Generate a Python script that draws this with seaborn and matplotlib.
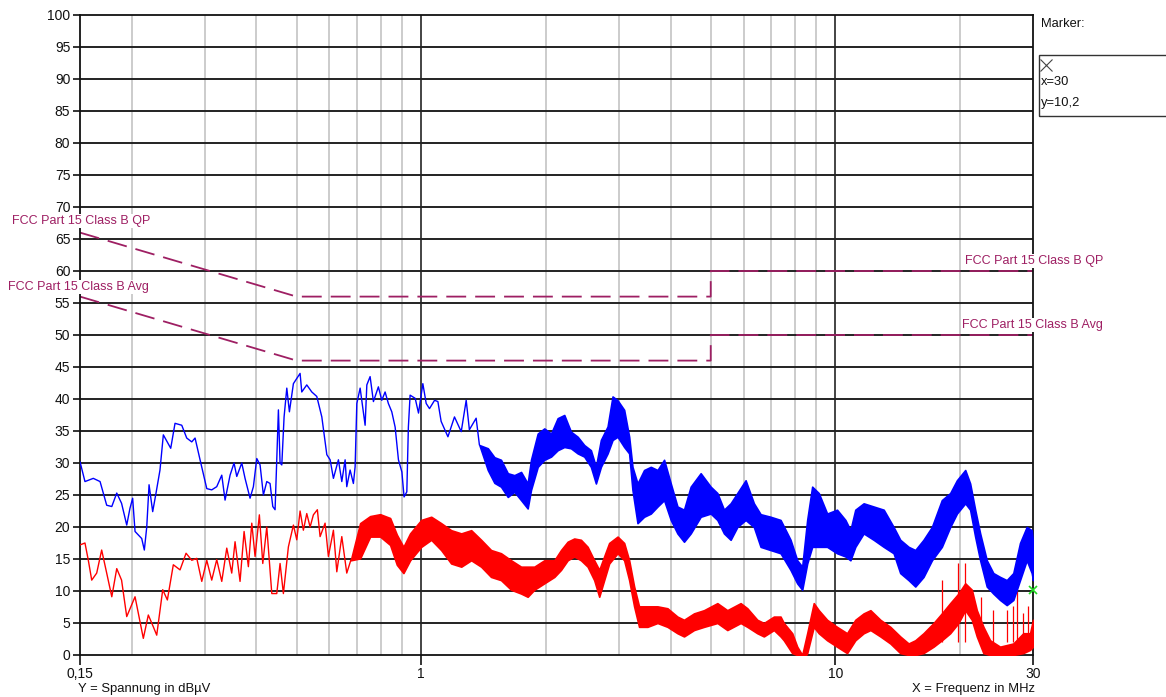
import matplotlib
matplotlib.use("Agg")
import matplotlib.pyplot as plt
import seaborn as sns
import pandas as pd
from matplotlib.lines import Line2D
from matplotlib.patches import Rectangle

# ---------------- data (frequency in MHz, level in dBuV) ----------------
blue_thin_f = [0.150, 0.1542, 0.1615, 0.1677, 0.174, 0.179, 0.184, 0.189, 0.1945, 0.198,
               0.201, 0.2037, 0.2114, 0.2145, 0.2174, 0.2202, 0.2247, 0.2289, 0.234, 0.2384,
               0.2484, 0.2544, 0.2641, 0.2715, 0.2792, 0.2844, 0.2924, 0.3035, 0.312, 0.3208,
               0.3299, 0.336, 0.3455, 0.3532, 0.3586, 0.3687, 0.3755, 0.3861, 0.3933, 0.4008,
               0.4082, 0.4158, 0.4237, 0.4315, 0.4381, 0.4437, 0.4479, 0.452, 0.4562, 0.4606,
               0.4665, 0.4736, 0.4805, 0.4913, 0.5099, 0.5147, 0.5292, 0.5442, 0.5595, 0.5754,
               0.5916, 0.6026, 0.6137, 0.631, 0.643, 0.655, 0.661, 0.6734, 0.6858, 0.6924,
               0.699, 0.712, 0.732, 0.739, 0.7526, 0.7666, 0.788, 0.803, 0.818, 0.833,
               0.849, 0.865, 0.881, 0.898, 0.909, 0.923, 0.931, 0.940, 0.967, 0.985,
               1.009, 1.028, 1.047, 1.077, 1.097, 1.117, 1.160, 1.203, 1.249, 1.284,
               1.307, 1.357, 1.382]
blue_thin_db = [30.2, 27.1, 27.6, 27.1, 23.4, 23.2, 25.3, 23.7, 20.3, 22.9,
                24.5, 19.3, 18.2, 16.4, 20.0, 26.6, 22.4, 25.3, 28.9, 34.4,
                32.3, 36.2, 35.9, 33.9, 33.3, 33.9, 30.5, 26.0, 25.8, 26.3,
                28.1, 24.2, 28.1, 30.0, 27.9, 30.0, 27.6, 24.5, 26.3, 30.7,
                29.7, 25.0, 27.1, 26.8, 23.2, 22.7, 30.5, 38.3, 30.0, 29.7,
                37.2, 41.7, 38.0, 42.4, 44.0, 41.1, 42.2, 41.1, 40.4, 37.2,
                31.3, 30.5, 27.6, 30.5, 27.1, 30.5, 26.3, 28.9, 26.8, 29.4,
                39.3, 41.7, 35.9, 42.2, 43.5, 39.6, 41.9, 39.8, 41.1, 39.3,
                38.0, 35.6, 30.5, 28.6, 24.7, 25.5, 35.6, 40.6, 40.1, 37.8,
                42.4, 39.3, 38.5, 39.8, 39.6, 36.5, 34.1, 37.2, 34.9, 39.8,
                35.2, 37.0, 32.8]

blue_band_f = [1.382, 1.448, 1.502, 1.558, 1.618, 1.678, 1.742, 1.807, 1.841, 1.911,
               1.982, 2.058, 2.135, 2.215, 2.298, 2.386, 2.475, 2.568, 2.641, 2.715,
               2.818, 2.897, 2.979, 3.090, 3.177, 3.236, 3.328, 3.452, 3.583, 3.719,
               3.858, 4.004, 4.155, 4.310, 4.473, 4.728, 4.998, 5.188, 5.382, 5.585,
               5.796, 6.070, 6.356, 6.597, 6.972, 7.371, 7.792, 8.087, 8.315, 8.549,
               8.789, 9.116, 9.550, 10.09, 10.57, 10.87, 11.17, 11.70, 12.37, 13.08,
               13.82, 14.34, 15.02, 15.59, 16.32, 17.10, 18.07, 18.93, 19.65, 20.58,
               21.15, 21.75, 22.36, 23.20, 24.06, 24.98, 25.92, 26.89, 27.91, 28.97,
               29.79, 30.0]
blue_band_hi = [32.8, 32.3, 30.9, 30.5, 28.4, 28.1, 28.6, 26.8, 30.5, 34.6,
                35.4, 34.6, 37.0, 37.5, 34.9, 34.1, 32.8, 32.0, 29.4, 33.6,
                35.7, 40.4, 39.8, 38.3, 34.1, 29.4, 26.8, 28.9, 29.4, 28.9,
                30.5, 26.8, 23.2, 22.7, 26.3, 28.4, 26.3, 25.3, 22.7, 23.7,
                25.3, 27.3, 23.7, 22.0, 21.6, 21.1, 18.0, 14.8, 13.8, 21.1,
                26.3, 25.3, 22.1, 22.7, 21.1, 19.5, 22.7, 23.7, 23.2, 22.7,
                20.0, 18.0, 16.9, 16.4, 18.0, 20.0, 24.2, 25.3, 27.3, 28.9,
                26.8, 22.7, 19.0, 14.8, 12.8, 12.2, 11.7, 12.8, 17.5, 20.0,
                19.5, 17.5]
blue_band_lo = [32.8, 28.9, 26.9, 26.3, 24.7, 25.5, 24.2, 22.9, 25.8, 29.4,
                30.5, 31.0, 32.0, 32.5, 32.3, 31.5, 31.0, 29.4, 26.8, 29.4,
                31.5, 33.6, 34.1, 32.5, 31.5, 25.8, 20.6, 21.6, 22.1, 23.2,
                24.2, 21.1, 19.0, 17.7, 19.0, 21.6, 22.1, 21.1, 19.0, 18.0,
                20.0, 21.1, 20.0, 16.9, 16.4, 15.9, 13.3, 11.2, 10.2, 14.3,
                16.9, 16.9, 16.9, 15.9, 15.4, 14.8, 16.9, 19.0, 18.0, 16.9,
                15.9, 12.8, 11.7, 10.7, 12.2, 14.8, 16.9, 20.0, 22.1, 23.7,
                22.7, 18.5, 14.8, 10.7, 9.6, 8.6, 7.8, 8.6, 11.7, 14.8,
                12.8, 11.7]

red_thin_f = [0.150, 0.1542, 0.1571, 0.1601, 0.1646, 0.1692, 0.174, 0.179, 0.184, 0.189,
              0.1945, 0.2037, 0.2133, 0.2193, 0.2255, 0.2298, 0.2376, 0.2438, 0.252, 0.2616,
              0.2705, 0.2792, 0.2871, 0.2952, 0.3035, 0.312, 0.3208, 0.3299, 0.3392, 0.3487,
              0.3552, 0.3652, 0.3735, 0.3825, 0.3898, 0.397, 0.4066, 0.4144, 0.4237, 0.4357,
              0.4479, 0.4562, 0.4647, 0.4778, 0.4913, 0.5006, 0.5099, 0.5193, 0.5292, 0.5391,
              0.549, 0.5613, 0.5699, 0.5859, 0.5968, 0.6137, 0.6254, 0.643, 0.661, 0.676]
red_thin_db = [17.2, 17.5, 14.8, 11.7, 12.8, 16.4, 12.8, 9.1, 13.5, 11.7,
               6.0, 9.1, 2.6, 6.25, 4.4, 3.1, 10.2, 8.6, 14.1, 13.3,
               15.9, 14.8, 15.1, 11.5, 14.8, 11.7, 14.9, 11.5, 16.7, 12.8,
               17.7, 11.5, 19.3, 13.8, 20.6, 15.4, 21.9, 14.3, 20.0, 9.6,
               9.6, 14.3, 9.6, 16.9, 20.3, 18.0, 22.5, 19.5, 22.1, 20.0,
               21.9, 22.7, 18.5, 20.6, 15.4, 19.5, 13.0, 18.5, 12.8, 14.8]

red_band_f = [0.676, 0.712, 0.7526, 0.7957, 0.8412, 0.8732, 0.9057, 0.94, 1.0, 1.057,
              1.117, 1.181, 1.249, 1.32, 1.395, 1.474, 1.558, 1.648, 1.742, 1.807,
              1.875, 1.982, 2.096, 2.175, 2.257, 2.341, 2.430, 2.522, 2.616, 2.690,
              2.765, 2.843, 2.979, 3.090, 3.177, 3.266, 3.357, 3.518, 3.719, 3.931,
              4.155, 4.310, 4.556, 4.816, 5.188, 5.483, 5.904, 6.128, 6.477, 6.718,
              7.102, 7.371, 7.506, 7.865, 8.087, 8.315, 8.549, 8.866, 9.116, 9.550,
              10.09, 10.67, 11.17, 11.70, 12.15, 12.84, 13.57, 14.34, 15.02, 15.59,
              16.32, 17.26, 18.07, 18.93, 19.82, 20.58, 21.35, 21.95, 22.77, 23.63,
              24.98, 26.89, 28.42, 29.51, 30.0]
red_band_hi = [14.8, 20.6, 21.7, 22.0, 21.4, 18.8, 16.9, 19.0, 21.1, 21.6,
               20.6, 19.5, 19.0, 19.5, 18.0, 16.4, 15.9, 14.8, 13.8, 13.8,
               13.8, 14.8, 14.8, 16.4, 17.7, 18.2, 18.0, 16.9, 14.8, 13.3,
               15.4, 17.5, 18.5, 17.5, 14.8, 10.7, 7.6, 7.6, 7.6, 7.3,
               6.0, 5.5, 6.5, 7.0, 8.1, 7.0, 8.1, 7.3, 5.5, 5.0,
               6.0, 6.0, 5.0, 3.4, 1.3, 0.0, 3.4, 8.1, 7.0, 5.5,
               4.4, 3.4, 5.5, 6.5, 7.0, 5.5, 4.4, 2.9, 1.8, 2.3,
               3.4, 5.0, 6.5, 8.1, 9.6, 11.2, 10.2, 7.0, 4.4, 2.3,
               1.3, 1.8, 3.4, 3.4, 5.5]
red_band_lo = [14.8, 15.1, 18.5, 18.5, 17.2, 14.1, 12.8, 14.8, 16.9, 18.0,
               16.4, 14.3, 13.8, 14.8, 13.8, 12.2, 11.7, 10.2, 9.6, 9.1,
               10.2, 11.2, 12.2, 13.3, 14.8, 15.4, 14.8, 13.8, 11.7, 9.1,
               11.7, 14.3, 15.9, 14.8, 11.7, 7.6, 4.4, 4.4, 5.0, 4.4,
               3.4, 2.9, 3.9, 4.4, 5.0, 3.9, 5.0, 4.4, 3.4, 2.9,
               3.9, 2.9, 2.3, 0.3, 0.0, -1.0, 0.3, 4.4, 3.4, 2.3,
               1.3, 0.3, 2.3, 3.4, 3.9, 2.9, 1.8, 0.3, 0.0, 0.0,
               0.3, 1.3, 2.3, 3.4, 5.0, 7.0, 5.5, 2.9, 0.3, 0.0,
               0.0, 0.0, 0.3, 0.8, 1.3]

red_spike_f = [18.07, 19.82, 20.58, 22.5, 24.06, 25.92, 26.89, 27.5, 28.42, 29.2]
red_spike_db = [11.7, 14.3, 14.3, 9.0, 7.0, 7.0, 7.6, 10.0, 6.5, 7.6]

qp_limit_f = [0.15, 0.5, 5.0, 5.0, 30.0]
qp_limit_db = [66, 56, 56, 60, 60]
avg_limit_f = [0.15, 0.5, 5.0, 5.0, 30.0]
avg_limit_db = [56, 46, 46, 50, 50]

marker_f = [30.0]
marker_db = [10.2]

y_ticks = list(range(0, 101, 5))
x_ticks = [0.15, 1, 10, 30]
x_tick_labels = ["0,15", "1", "10", "30"]
x_minor = [0.2, 0.3, 0.4, 0.5, 0.6, 0.7, 0.8, 0.9, 2, 3, 4, 5, 6, 7, 8, 9, 20]

# ---------------- drawing ----------------
sns.set_style("white")
plt.rcParams["font.family"] = ["Liberation Sans", "DejaVu Sans"]

W, H = 1166, 697
fig = plt.figure(figsize=(W / 100, H / 100), dpi=100)
ax = fig.add_axes([80 / W, 42 / H, 953 / W, 640 / H])
ax.set_xscale("log")

LIM = "#9e1f63"
BLUE = "#0000ff"
RED = "#ff0000"

# grid
for v in x_minor:
    ax.axvline(v, color="#c8c8c8", lw=1.3, zorder=0)
for v in [1, 10]:
    ax.axvline(v, color="#111111", lw=1.1, zorder=0.5)
for v in y_ticks[1:-1]:
    ax.axhline(v, color="#222222", lw=1.4, zorder=0.5)

# limits
lim_df = pd.DataFrame({"f": qp_limit_f + avg_limit_f,
                       "db": qp_limit_db + avg_limit_db,
                       "kind": ["QP"] * len(qp_limit_f) + ["Avg"] * len(avg_limit_f)})
for kind in ["QP", "Avg"]:
    sub = lim_df[lim_df["kind"] == kind]
    sns.lineplot(data=sub, x="f", y="db", estimator=None, sort=False, ax=ax,
                 color=LIM, lw=1.3, linestyle=(0, (11, 5)), zorder=2)

# traces
ax.fill_between(red_band_f, red_band_lo, red_band_hi, facecolor=RED,
                edgecolor=RED, lw=1.2, zorder=3)
ax.vlines(red_spike_f, 2, red_spike_db, color=RED, lw=0.9, zorder=3)
sns.lineplot(x=red_thin_f, y=red_thin_db, estimator=None, sort=False, ax=ax,
             color=RED, lw=1.0, zorder=3)
ax.fill_between(blue_band_f, blue_band_lo, blue_band_hi, facecolor=BLUE,
                edgecolor=BLUE, lw=1.2, zorder=4)
sns.lineplot(x=blue_thin_f, y=blue_thin_db, estimator=None, sort=False, ax=ax,
             color=BLUE, lw=1.0, zorder=4)
ax.plot(marker_f, marker_db, marker="x", ms=6, mew=1.2, color="#22dd22",
        ls="none", clip_on=False, zorder=6)

ax.set_xlim(0.15, 30)
ax.set_ylim(0, 100)
ax.set_xticks(x_ticks)
ax.set_xticklabels(x_tick_labels)
ax.xaxis.set_minor_locator(matplotlib.ticker.NullLocator())
ax.set_yticks(y_ticks)
ax.set_yticklabels([str(v) for v in y_ticks])
ax.tick_params(axis="y", direction="out", length=5, width=1.2, pad=2,
               labelsize=10, colors="#111111", left=True)
ax.tick_params(axis="x", direction="out", length=7, width=1.2, pad=2,
               labelsize=10, colors="#111111", bottom=True)
ax.set_xlabel("")
ax.set_ylabel("")
for s in ax.spines.values():
    s.set_color("#111111")
    s.set_linewidth(1.3)
    s.set_visible(True)

# limit labels
def ftxt(x, y, s, **kw):
    return fig.text(x / W, 1 - y / H, s, va="center", **kw)

box = dict(facecolor="white", edgecolor="none", pad=0.5)
for (x, y, s) in [(12, 221, "FCC Part 15 Class B QP"),
                  (8, 287, "FCC Part 15 Class B Avg"),
                  (965, 261, "FCC Part 15 Class B QP"),
                  (962, 325, "FCC Part 15 Class B Avg")]:
    ftxt(x, y, s, color=LIM, fontsize=9, bbox=box, zorder=10)

# axis descriptions
ftxt(78, 689, "Y = Spannung in dBµV", color="#111111", fontsize=9.4, ha="left")
ftxt(1035, 689, "X = Frequenz in MHz", color="#111111", fontsize=9.4, ha="right")

# marker panel
ftxt(1041, 24, "Marker:", color="#111111", fontsize=9.3)
fig.add_artist(Rectangle((1039 / W, 1 - 116 / H), 200 / W, 61 / H,
                         transform=fig.transFigure, fill=False,
                         edgecolor="#333333", lw=1.0))
fig.add_artist(Line2D([1046 / W], [1 - 65 / H], marker="x", ms=8, mew=0.8,
                      color="#444444", transform=fig.transFigure))
ftxt(1041, 82, "x=30", color="#111111", fontsize=9.3)
ftxt(1041, 103, "y=10,2", color="#111111", fontsize=9.3)

fig.savefig("out.png", dpi=100)
